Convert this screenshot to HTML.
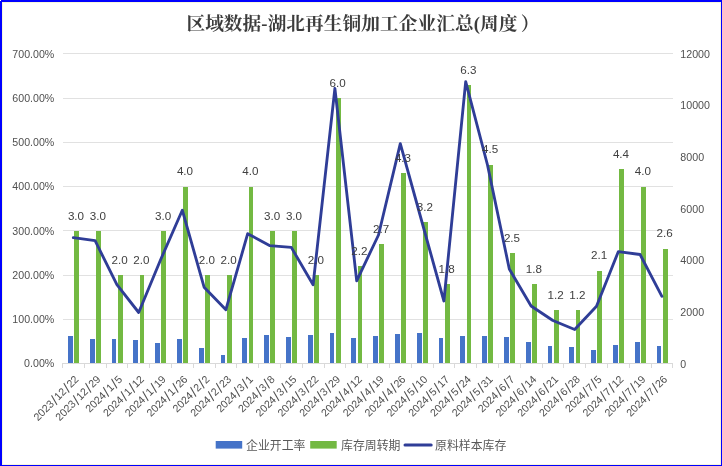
<!DOCTYPE html>
<html lang="zh"><head><meta charset="utf-8"><title>区域数据-湖北再生铜加工企业汇总(周度）</title>
<style>html,body{margin:0;padding:0;background:#fff;}body{width:722px;height:466px;overflow:hidden;}svg{display:block;}.ax{font-family:"Liberation Sans","Noto Sans CJK SC",sans-serif;font-size:11px;fill:#505050;}.xl{font-size:10.7px;}.sl{font-size:14.5px;}.dl{font-family:"Liberation Sans","Noto Sans CJK SC",sans-serif;font-size:11px;fill:#404040;}.lg{font-family:"Liberation Sans","Noto Sans CJK SC",sans-serif;font-size:12px;fill:#595959;}.tt{font-family:"Liberation Serif","Noto Serif CJK SC",serif;font-weight:bold;font-size:18.67px;fill:#3c3c3c;}</style></head><body>
<svg width="722" height="466" viewBox="0 0 722 466">
<rect x="0" y="0" width="722" height="466" fill="#fff"/>
<g shape-rendering="crispEdges">
<rect x="2" y="2" width="719" height="463" fill="#f6f6dc"/>
<rect x="3" y="3" width="717" height="461" fill="#fff"/>
<rect x="0" y="0" width="722" height="2" fill="#0000ff"/>
<rect x="0" y="0" width="2" height="466" fill="#0000ff"/>
<rect x="721" y="0" width="1" height="466" fill="#0000ff"/>
<rect x="0" y="465" width="722" height="1" fill="#0000ff"/>
<rect x="0" y="0" width="1" height="1" fill="#fff"/>
<rect x="63" y="53" width="610" height="1" fill="#e1e1e1"/>
<rect x="63" y="98" width="610" height="1" fill="#e1e1e1"/>
<rect x="63" y="142" width="610" height="1" fill="#e1e1e1"/>
<rect x="63" y="186" width="610" height="1" fill="#e1e1e1"/>
<rect x="63" y="230" width="610" height="1" fill="#e1e1e1"/>
<rect x="63" y="275" width="610" height="1" fill="#e1e1e1"/>
<rect x="63" y="319" width="610" height="1" fill="#e1e1e1"/>
<rect x="63" y="363" width="610" height="1" fill="#d9d9d9"/>
<rect x="62" y="363" width="1" height="5" fill="#d9d9d9"/>
<rect x="84" y="363" width="1" height="5" fill="#d9d9d9"/>
<rect x="106" y="363" width="1" height="5" fill="#d9d9d9"/>
<rect x="127" y="363" width="1" height="5" fill="#d9d9d9"/>
<rect x="149" y="363" width="1" height="5" fill="#d9d9d9"/>
<rect x="171" y="363" width="1" height="5" fill="#d9d9d9"/>
<rect x="193" y="363" width="1" height="5" fill="#d9d9d9"/>
<rect x="215" y="363" width="1" height="5" fill="#d9d9d9"/>
<rect x="236" y="363" width="1" height="5" fill="#d9d9d9"/>
<rect x="258" y="363" width="1" height="5" fill="#d9d9d9"/>
<rect x="280" y="363" width="1" height="5" fill="#d9d9d9"/>
<rect x="302" y="363" width="1" height="5" fill="#d9d9d9"/>
<rect x="324" y="363" width="1" height="5" fill="#d9d9d9"/>
<rect x="345" y="363" width="1" height="5" fill="#d9d9d9"/>
<rect x="367" y="363" width="1" height="5" fill="#d9d9d9"/>
<rect x="389" y="363" width="1" height="5" fill="#d9d9d9"/>
<rect x="411" y="363" width="1" height="5" fill="#d9d9d9"/>
<rect x="433" y="363" width="1" height="5" fill="#d9d9d9"/>
<rect x="454" y="363" width="1" height="5" fill="#d9d9d9"/>
<rect x="476" y="363" width="1" height="5" fill="#d9d9d9"/>
<rect x="498" y="363" width="1" height="5" fill="#d9d9d9"/>
<rect x="520" y="363" width="1" height="5" fill="#d9d9d9"/>
<rect x="542" y="363" width="1" height="5" fill="#d9d9d9"/>
<rect x="563" y="363" width="1" height="5" fill="#d9d9d9"/>
<rect x="585" y="363" width="1" height="5" fill="#d9d9d9"/>
<rect x="607" y="363" width="1" height="5" fill="#d9d9d9"/>
<rect x="629" y="363" width="1" height="5" fill="#d9d9d9"/>
<rect x="651" y="363" width="1" height="5" fill="#d9d9d9"/>
<rect x="672" y="363" width="1" height="5" fill="#d9d9d9"/>
<rect x="68" y="336" width="5" height="27" fill="#4573c8"/>
<rect x="74" y="231" width="5" height="132" fill="#73b942"/>
<rect x="90" y="339" width="5" height="24" fill="#4573c8"/>
<rect x="96" y="231" width="5" height="132" fill="#73b942"/>
<rect x="112" y="339" width="4" height="24" fill="#4573c8"/>
<rect x="118" y="275" width="5" height="88" fill="#73b942"/>
<rect x="133" y="340" width="5" height="23" fill="#4573c8"/>
<rect x="140" y="275" width="4" height="88" fill="#73b942"/>
<rect x="155" y="343" width="5" height="20" fill="#4573c8"/>
<rect x="161" y="231" width="5" height="132" fill="#73b942"/>
<rect x="177" y="339" width="5" height="24" fill="#4573c8"/>
<rect x="183" y="187" width="5" height="176" fill="#73b942"/>
<rect x="199" y="348" width="5" height="15" fill="#4573c8"/>
<rect x="205" y="275" width="5" height="88" fill="#73b942"/>
<rect x="221" y="355" width="4" height="8" fill="#4573c8"/>
<rect x="227" y="275" width="5" height="88" fill="#73b942"/>
<rect x="242" y="338" width="5" height="25" fill="#4573c8"/>
<rect x="249" y="187" width="4" height="176" fill="#73b942"/>
<rect x="264" y="335" width="5" height="28" fill="#4573c8"/>
<rect x="270" y="231" width="5" height="132" fill="#73b942"/>
<rect x="286" y="337" width="5" height="26" fill="#4573c8"/>
<rect x="292" y="231" width="5" height="132" fill="#73b942"/>
<rect x="308" y="335" width="5" height="28" fill="#4573c8"/>
<rect x="314" y="275" width="5" height="88" fill="#73b942"/>
<rect x="330" y="333" width="4" height="30" fill="#4573c8"/>
<rect x="336" y="98" width="5" height="265" fill="#73b942"/>
<rect x="351" y="338" width="5" height="25" fill="#4573c8"/>
<rect x="358" y="266" width="4" height="97" fill="#73b942"/>
<rect x="373" y="336" width="5" height="27" fill="#4573c8"/>
<rect x="379" y="244" width="5" height="119" fill="#73b942"/>
<rect x="395" y="334" width="5" height="29" fill="#4573c8"/>
<rect x="401" y="173" width="5" height="190" fill="#73b942"/>
<rect x="417" y="333" width="5" height="30" fill="#4573c8"/>
<rect x="423" y="222" width="5" height="141" fill="#73b942"/>
<rect x="439" y="338" width="4" height="25" fill="#4573c8"/>
<rect x="445" y="284" width="5" height="79" fill="#73b942"/>
<rect x="460" y="336" width="5" height="27" fill="#4573c8"/>
<rect x="467" y="85" width="4" height="278" fill="#73b942"/>
<rect x="482" y="336" width="5" height="27" fill="#4573c8"/>
<rect x="488" y="165" width="5" height="198" fill="#73b942"/>
<rect x="504" y="337" width="5" height="26" fill="#4573c8"/>
<rect x="510" y="253" width="5" height="110" fill="#73b942"/>
<rect x="526" y="342" width="5" height="21" fill="#4573c8"/>
<rect x="532" y="284" width="5" height="79" fill="#73b942"/>
<rect x="548" y="346" width="4" height="17" fill="#4573c8"/>
<rect x="554" y="310" width="5" height="53" fill="#73b942"/>
<rect x="569" y="347" width="5" height="16" fill="#4573c8"/>
<rect x="576" y="310" width="4" height="53" fill="#73b942"/>
<rect x="591" y="350" width="5" height="13" fill="#4573c8"/>
<rect x="597" y="271" width="5" height="92" fill="#73b942"/>
<rect x="613" y="345" width="5" height="18" fill="#4573c8"/>
<rect x="619" y="169" width="5" height="194" fill="#73b942"/>
<rect x="635" y="342" width="5" height="21" fill="#4573c8"/>
<rect x="641" y="187" width="5" height="176" fill="#73b942"/>
<rect x="657" y="346" width="4" height="17" fill="#4573c8"/>
<rect x="663" y="249" width="5" height="114" fill="#73b942"/>
</g>
<polyline points="73.3,237.7 95.1,240.7 116.9,284.6 138.7,312.5 160.5,260 182.3,210.2 204.1,287.2 225.9,309.7 247.7,233.7 269.5,245.6 291.3,247.4 313.1,284.8 334.9,88.3 356.7,280.8 378.5,235 400.3,143.7 422.1,222.5 443.9,301 465.7,81.6 487.5,165 509.3,269 531.1,306 552.9,320.5 574.7,329.5 596.5,306.3 618.3,251.7 640.1,254.5 661.9,296.3" fill="none" stroke="#2f3d97" stroke-width="2.85" stroke-linejoin="round" stroke-linecap="round"/>
<text class="dl" x="76.0" y="219.6" text-anchor="middle" textLength="16.2" lengthAdjust="spacingAndGlyphs">3.0</text>
<text class="dl" x="97.8" y="219.6" text-anchor="middle" textLength="16.2" lengthAdjust="spacingAndGlyphs">3.0</text>
<text class="dl" x="119.6" y="263.8" text-anchor="middle" textLength="16.2" lengthAdjust="spacingAndGlyphs">2.0</text>
<text class="dl" x="141.4" y="263.8" text-anchor="middle" textLength="16.2" lengthAdjust="spacingAndGlyphs">2.0</text>
<text class="dl" x="163.2" y="219.6" text-anchor="middle" textLength="16.2" lengthAdjust="spacingAndGlyphs">3.0</text>
<text class="dl" x="185.0" y="175.4" text-anchor="middle" textLength="16.2" lengthAdjust="spacingAndGlyphs">4.0</text>
<text class="dl" x="206.8" y="263.8" text-anchor="middle" textLength="16.2" lengthAdjust="spacingAndGlyphs">2.0</text>
<text class="dl" x="228.6" y="263.8" text-anchor="middle" textLength="16.2" lengthAdjust="spacingAndGlyphs">2.0</text>
<text class="dl" x="250.4" y="175.4" text-anchor="middle" textLength="16.2" lengthAdjust="spacingAndGlyphs">4.0</text>
<text class="dl" x="272.2" y="219.6" text-anchor="middle" textLength="16.2" lengthAdjust="spacingAndGlyphs">3.0</text>
<text class="dl" x="294.0" y="219.6" text-anchor="middle" textLength="16.2" lengthAdjust="spacingAndGlyphs">3.0</text>
<text class="dl" x="315.8" y="263.8" text-anchor="middle" textLength="16.2" lengthAdjust="spacingAndGlyphs">2.0</text>
<text class="dl" x="337.6" y="87.0" text-anchor="middle" textLength="16.2" lengthAdjust="spacingAndGlyphs">6.0</text>
<text class="dl" x="359.4" y="254.9" text-anchor="middle" textLength="16.2" lengthAdjust="spacingAndGlyphs">2.2</text>
<text class="dl" x="381.2" y="232.8" text-anchor="middle" textLength="16.2" lengthAdjust="spacingAndGlyphs">2.7</text>
<text class="dl" x="403.0" y="162.1" text-anchor="middle" textLength="16.2" lengthAdjust="spacingAndGlyphs">4.3</text>
<text class="dl" x="424.8" y="210.7" text-anchor="middle" textLength="16.2" lengthAdjust="spacingAndGlyphs">3.2</text>
<text class="dl" x="446.6" y="272.6" text-anchor="middle" textLength="16.2" lengthAdjust="spacingAndGlyphs">1.8</text>
<text class="dl" x="468.4" y="73.7" text-anchor="middle" textLength="16.2" lengthAdjust="spacingAndGlyphs">6.3</text>
<text class="dl" x="490.2" y="153.3" text-anchor="middle" textLength="16.2" lengthAdjust="spacingAndGlyphs">4.5</text>
<text class="dl" x="512.0" y="241.7" text-anchor="middle" textLength="16.2" lengthAdjust="spacingAndGlyphs">2.5</text>
<text class="dl" x="533.8" y="272.6" text-anchor="middle" textLength="16.2" lengthAdjust="spacingAndGlyphs">1.8</text>
<text class="dl" x="555.6" y="299.1" text-anchor="middle" textLength="16.2" lengthAdjust="spacingAndGlyphs">1.2</text>
<text class="dl" x="577.4" y="299.1" text-anchor="middle" textLength="16.2" lengthAdjust="spacingAndGlyphs">1.2</text>
<text class="dl" x="599.2" y="259.4" text-anchor="middle" textLength="16.2" lengthAdjust="spacingAndGlyphs">2.1</text>
<text class="dl" x="621.0" y="157.7" text-anchor="middle" textLength="16.2" lengthAdjust="spacingAndGlyphs">4.4</text>
<text class="dl" x="642.8" y="175.4" text-anchor="middle" textLength="16.2" lengthAdjust="spacingAndGlyphs">4.0</text>
<text class="dl" x="664.6" y="237.2" text-anchor="middle" textLength="16.2" lengthAdjust="spacingAndGlyphs">2.6</text>
<text class="ax" x="54.3" y="58.0" text-anchor="end" textLength="42" lengthAdjust="spacingAndGlyphs">700.00%</text>
<text class="ax" x="54.3" y="102.1" text-anchor="end" textLength="42" lengthAdjust="spacingAndGlyphs">600.00%</text>
<text class="ax" x="54.3" y="146.3" text-anchor="end" textLength="42" lengthAdjust="spacingAndGlyphs">500.00%</text>
<text class="ax" x="54.3" y="190.4" text-anchor="end" textLength="42" lengthAdjust="spacingAndGlyphs">400.00%</text>
<text class="ax" x="54.3" y="234.6" text-anchor="end" textLength="42" lengthAdjust="spacingAndGlyphs">300.00%</text>
<text class="ax" x="54.3" y="278.7" text-anchor="end" textLength="42" lengthAdjust="spacingAndGlyphs">200.00%</text>
<text class="ax" x="54.3" y="322.8" text-anchor="end" textLength="42" lengthAdjust="spacingAndGlyphs">100.00%</text>
<text class="ax" x="54.3" y="367.0" text-anchor="end" textLength="30.2" lengthAdjust="spacingAndGlyphs">0.00%</text>
<text class="ax" x="680.3" y="57.7" textLength="29.7" lengthAdjust="spacingAndGlyphs">12000</text>
<text class="ax" x="680.3" y="109.4" textLength="29.7" lengthAdjust="spacingAndGlyphs">10000</text>
<text class="ax" x="680.3" y="161.0" textLength="23.8" lengthAdjust="spacingAndGlyphs">8000</text>
<text class="ax" x="680.3" y="212.7" textLength="23.8" lengthAdjust="spacingAndGlyphs">6000</text>
<text class="ax" x="680.3" y="264.4" textLength="23.8" lengthAdjust="spacingAndGlyphs">4000</text>
<text class="ax" x="680.3" y="316.0" textLength="23.8" lengthAdjust="spacingAndGlyphs">2000</text>
<text class="ax" x="680.3" y="367.7" textLength="5.9" lengthAdjust="spacingAndGlyphs">0</text>
<text class="ax xl" transform="translate(79.3,380.0) rotate(-45)" y="0"><tspan x="-58.53 -52.63 -46.73 -40.83" dy="0.0">2023</tspan><tspan class="sl" x="-34.09" dy="1.7">/</tspan><tspan x="-29.28 -23.38" dy="-1.7">12</tspan><tspan class="sl" x="-16.64" dy="1.7">/</tspan><tspan x="-11.83 -5.93" dy="-1.7">22</tspan></text>
<text class="ax xl" transform="translate(101.1,380.0) rotate(-45)" y="0"><tspan x="-58.53 -52.63 -46.73 -40.83" dy="0.0">2023</tspan><tspan class="sl" x="-34.09" dy="1.7">/</tspan><tspan x="-29.28 -23.38" dy="-1.7">12</tspan><tspan class="sl" x="-16.64" dy="1.7">/</tspan><tspan x="-11.83 -5.93" dy="-1.7">29</tspan></text>
<text class="ax xl" transform="translate(122.9,380.0) rotate(-45)" y="0"><tspan x="-46.73 -40.83 -34.93 -29.03" dy="0.0">2024</tspan><tspan class="sl" x="-22.29" dy="1.7">/</tspan><tspan x="-17.48" dy="-1.7">1</tspan><tspan class="sl" x="-10.74" dy="1.7">/</tspan><tspan x="-5.93" dy="-1.7">5</tspan></text>
<text class="ax xl" transform="translate(144.7,380.0) rotate(-45)" y="0"><tspan x="-52.63 -46.73 -40.83 -34.93" dy="0.0">2024</tspan><tspan class="sl" x="-28.19" dy="1.7">/</tspan><tspan x="-23.38" dy="-1.7">1</tspan><tspan class="sl" x="-16.64" dy="1.7">/</tspan><tspan x="-11.83 -5.93" dy="-1.7">12</tspan></text>
<text class="ax xl" transform="translate(166.5,380.0) rotate(-45)" y="0"><tspan x="-52.63 -46.73 -40.83 -34.93" dy="0.0">2024</tspan><tspan class="sl" x="-28.19" dy="1.7">/</tspan><tspan x="-23.38" dy="-1.7">1</tspan><tspan class="sl" x="-16.64" dy="1.7">/</tspan><tspan x="-11.83 -5.93" dy="-1.7">19</tspan></text>
<text class="ax xl" transform="translate(188.3,380.0) rotate(-45)" y="0"><tspan x="-52.63 -46.73 -40.83 -34.93" dy="0.0">2024</tspan><tspan class="sl" x="-28.19" dy="1.7">/</tspan><tspan x="-23.38" dy="-1.7">1</tspan><tspan class="sl" x="-16.64" dy="1.7">/</tspan><tspan x="-11.83 -5.93" dy="-1.7">26</tspan></text>
<text class="ax xl" transform="translate(210.1,380.0) rotate(-45)" y="0"><tspan x="-46.73 -40.83 -34.93 -29.03" dy="0.0">2024</tspan><tspan class="sl" x="-22.29" dy="1.7">/</tspan><tspan x="-17.48" dy="-1.7">2</tspan><tspan class="sl" x="-10.74" dy="1.7">/</tspan><tspan x="-5.93" dy="-1.7">2</tspan></text>
<text class="ax xl" transform="translate(231.9,380.0) rotate(-45)" y="0"><tspan x="-52.63 -46.73 -40.83 -34.93" dy="0.0">2024</tspan><tspan class="sl" x="-28.19" dy="1.7">/</tspan><tspan x="-23.38" dy="-1.7">2</tspan><tspan class="sl" x="-16.64" dy="1.7">/</tspan><tspan x="-11.83 -5.93" dy="-1.7">23</tspan></text>
<text class="ax xl" transform="translate(253.7,380.0) rotate(-45)" y="0"><tspan x="-46.73 -40.83 -34.93 -29.03" dy="0.0">2024</tspan><tspan class="sl" x="-22.29" dy="1.7">/</tspan><tspan x="-17.48" dy="-1.7">3</tspan><tspan class="sl" x="-10.74" dy="1.7">/</tspan><tspan x="-5.93" dy="-1.7">1</tspan></text>
<text class="ax xl" transform="translate(275.5,380.0) rotate(-45)" y="0"><tspan x="-46.73 -40.83 -34.93 -29.03" dy="0.0">2024</tspan><tspan class="sl" x="-22.29" dy="1.7">/</tspan><tspan x="-17.48" dy="-1.7">3</tspan><tspan class="sl" x="-10.74" dy="1.7">/</tspan><tspan x="-5.93" dy="-1.7">8</tspan></text>
<text class="ax xl" transform="translate(297.3,380.0) rotate(-45)" y="0"><tspan x="-52.63 -46.73 -40.83 -34.93" dy="0.0">2024</tspan><tspan class="sl" x="-28.19" dy="1.7">/</tspan><tspan x="-23.38" dy="-1.7">3</tspan><tspan class="sl" x="-16.64" dy="1.7">/</tspan><tspan x="-11.83 -5.93" dy="-1.7">15</tspan></text>
<text class="ax xl" transform="translate(319.1,380.0) rotate(-45)" y="0"><tspan x="-52.63 -46.73 -40.83 -34.93" dy="0.0">2024</tspan><tspan class="sl" x="-28.19" dy="1.7">/</tspan><tspan x="-23.38" dy="-1.7">3</tspan><tspan class="sl" x="-16.64" dy="1.7">/</tspan><tspan x="-11.83 -5.93" dy="-1.7">22</tspan></text>
<text class="ax xl" transform="translate(340.9,380.0) rotate(-45)" y="0"><tspan x="-52.63 -46.73 -40.83 -34.93" dy="0.0">2024</tspan><tspan class="sl" x="-28.19" dy="1.7">/</tspan><tspan x="-23.38" dy="-1.7">3</tspan><tspan class="sl" x="-16.64" dy="1.7">/</tspan><tspan x="-11.83 -5.93" dy="-1.7">29</tspan></text>
<text class="ax xl" transform="translate(362.7,380.0) rotate(-45)" y="0"><tspan x="-52.63 -46.73 -40.83 -34.93" dy="0.0">2024</tspan><tspan class="sl" x="-28.19" dy="1.7">/</tspan><tspan x="-23.38" dy="-1.7">4</tspan><tspan class="sl" x="-16.64" dy="1.7">/</tspan><tspan x="-11.83 -5.93" dy="-1.7">12</tspan></text>
<text class="ax xl" transform="translate(384.5,380.0) rotate(-45)" y="0"><tspan x="-52.63 -46.73 -40.83 -34.93" dy="0.0">2024</tspan><tspan class="sl" x="-28.19" dy="1.7">/</tspan><tspan x="-23.38" dy="-1.7">4</tspan><tspan class="sl" x="-16.64" dy="1.7">/</tspan><tspan x="-11.83 -5.93" dy="-1.7">19</tspan></text>
<text class="ax xl" transform="translate(406.3,380.0) rotate(-45)" y="0"><tspan x="-52.63 -46.73 -40.83 -34.93" dy="0.0">2024</tspan><tspan class="sl" x="-28.19" dy="1.7">/</tspan><tspan x="-23.38" dy="-1.7">4</tspan><tspan class="sl" x="-16.64" dy="1.7">/</tspan><tspan x="-11.83 -5.93" dy="-1.7">26</tspan></text>
<text class="ax xl" transform="translate(428.1,380.0) rotate(-45)" y="0"><tspan x="-52.63 -46.73 -40.83 -34.93" dy="0.0">2024</tspan><tspan class="sl" x="-28.19" dy="1.7">/</tspan><tspan x="-23.38" dy="-1.7">5</tspan><tspan class="sl" x="-16.64" dy="1.7">/</tspan><tspan x="-11.83 -5.93" dy="-1.7">10</tspan></text>
<text class="ax xl" transform="translate(449.9,380.0) rotate(-45)" y="0"><tspan x="-52.63 -46.73 -40.83 -34.93" dy="0.0">2024</tspan><tspan class="sl" x="-28.19" dy="1.7">/</tspan><tspan x="-23.38" dy="-1.7">5</tspan><tspan class="sl" x="-16.64" dy="1.7">/</tspan><tspan x="-11.83 -5.93" dy="-1.7">17</tspan></text>
<text class="ax xl" transform="translate(471.7,380.0) rotate(-45)" y="0"><tspan x="-52.63 -46.73 -40.83 -34.93" dy="0.0">2024</tspan><tspan class="sl" x="-28.19" dy="1.7">/</tspan><tspan x="-23.38" dy="-1.7">5</tspan><tspan class="sl" x="-16.64" dy="1.7">/</tspan><tspan x="-11.83 -5.93" dy="-1.7">24</tspan></text>
<text class="ax xl" transform="translate(493.5,380.0) rotate(-45)" y="0"><tspan x="-52.63 -46.73 -40.83 -34.93" dy="0.0">2024</tspan><tspan class="sl" x="-28.19" dy="1.7">/</tspan><tspan x="-23.38" dy="-1.7">5</tspan><tspan class="sl" x="-16.64" dy="1.7">/</tspan><tspan x="-11.83 -5.93" dy="-1.7">31</tspan></text>
<text class="ax xl" transform="translate(515.3,380.0) rotate(-45)" y="0"><tspan x="-46.73 -40.83 -34.93 -29.03" dy="0.0">2024</tspan><tspan class="sl" x="-22.29" dy="1.7">/</tspan><tspan x="-17.48" dy="-1.7">6</tspan><tspan class="sl" x="-10.74" dy="1.7">/</tspan><tspan x="-5.93" dy="-1.7">7</tspan></text>
<text class="ax xl" transform="translate(537.1,380.0) rotate(-45)" y="0"><tspan x="-52.63 -46.73 -40.83 -34.93" dy="0.0">2024</tspan><tspan class="sl" x="-28.19" dy="1.7">/</tspan><tspan x="-23.38" dy="-1.7">6</tspan><tspan class="sl" x="-16.64" dy="1.7">/</tspan><tspan x="-11.83 -5.93" dy="-1.7">14</tspan></text>
<text class="ax xl" transform="translate(558.9,380.0) rotate(-45)" y="0"><tspan x="-52.63 -46.73 -40.83 -34.93" dy="0.0">2024</tspan><tspan class="sl" x="-28.19" dy="1.7">/</tspan><tspan x="-23.38" dy="-1.7">6</tspan><tspan class="sl" x="-16.64" dy="1.7">/</tspan><tspan x="-11.83 -5.93" dy="-1.7">21</tspan></text>
<text class="ax xl" transform="translate(580.7,380.0) rotate(-45)" y="0"><tspan x="-52.63 -46.73 -40.83 -34.93" dy="0.0">2024</tspan><tspan class="sl" x="-28.19" dy="1.7">/</tspan><tspan x="-23.38" dy="-1.7">6</tspan><tspan class="sl" x="-16.64" dy="1.7">/</tspan><tspan x="-11.83 -5.93" dy="-1.7">28</tspan></text>
<text class="ax xl" transform="translate(602.5,380.0) rotate(-45)" y="0"><tspan x="-46.73 -40.83 -34.93 -29.03" dy="0.0">2024</tspan><tspan class="sl" x="-22.29" dy="1.7">/</tspan><tspan x="-17.48" dy="-1.7">7</tspan><tspan class="sl" x="-10.74" dy="1.7">/</tspan><tspan x="-5.93" dy="-1.7">5</tspan></text>
<text class="ax xl" transform="translate(624.3,380.0) rotate(-45)" y="0"><tspan x="-52.63 -46.73 -40.83 -34.93" dy="0.0">2024</tspan><tspan class="sl" x="-28.19" dy="1.7">/</tspan><tspan x="-23.38" dy="-1.7">7</tspan><tspan class="sl" x="-16.64" dy="1.7">/</tspan><tspan x="-11.83 -5.93" dy="-1.7">12</tspan></text>
<text class="ax xl" transform="translate(646.1,380.0) rotate(-45)" y="0"><tspan x="-52.63 -46.73 -40.83 -34.93" dy="0.0">2024</tspan><tspan class="sl" x="-28.19" dy="1.7">/</tspan><tspan x="-23.38" dy="-1.7">7</tspan><tspan class="sl" x="-16.64" dy="1.7">/</tspan><tspan x="-11.83 -5.93" dy="-1.7">19</tspan></text>
<text class="ax xl" transform="translate(667.9,380.0) rotate(-45)" y="0"><tspan x="-52.63 -46.73 -40.83 -34.93" dy="0.0">2024</tspan><tspan class="sl" x="-28.19" dy="1.7">/</tspan><tspan x="-23.38" dy="-1.7">7</tspan><tspan class="sl" x="-16.64" dy="1.7">/</tspan><tspan x="-11.83 -5.93" dy="-1.7">26</tspan></text>
<text class="tt" x="186.4" y="30" letter-spacing="0.08">区域数据-湖北再生铜加工企业汇总(周度<tspan dx="3.2">）</tspan></text>
<rect x="215.7" y="441" width="26.5" height="7.6" fill="#4573c8"/>
<text class="lg" x="246" y="449.5" textLength="59.5" lengthAdjust="spacingAndGlyphs">企业开工率</text>
<rect x="310.2" y="441" width="26.5" height="7.6" fill="#73b942"/>
<text class="lg" x="341" y="449.5" textLength="59.5" lengthAdjust="spacingAndGlyphs">库存周转期</text>
<line x1="405" y1="444.9" x2="431.2" y2="444.9" stroke="#2f3d97" stroke-width="3" stroke-linecap="round"/>
<text class="lg" x="435" y="449.5" textLength="71.4" lengthAdjust="spacingAndGlyphs">原料样本库存</text>
</svg></body></html>
